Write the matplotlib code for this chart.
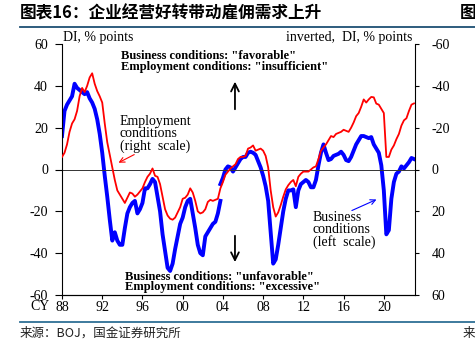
import numpy as np
import matplotlib
matplotlib.use('Agg')
import matplotlib.pyplot as plt
from matplotlib.lines import Line2D

plt.rcParams['axes.unicode_minus'] = False

# Tankan DI, quarterly from 1988Q1
quarters = np.arange(1988, 2023.01, 0.25)

# business conditions DI (left scale), old series up to 2003Q4
biz_old = [16, 28, 31, 33,
           35, 41, 39, 38,
           37, 36, 37, 34,
           32, 29, 24, 17,
           8, -3, -13, -24,
           -34, -30, -34, -36,
           -36, -28, -21, -18,
           -16, -15, -21, -19,
           -16, -9, -9, -7,
           -4.5, -6, -13, -20,
           -31, -39, -47, -48.5,
           -45, -38, -32, -26,
           -23, -18, -15, -14,
           -21, -28, -36, -40,
           -41, -32, -30, -28,
           -26, -25, -21, -15]
# new series from 2003Q4
biz_new = [-7,
           -4, 0, 1.5, 1,
           -1, 1, 3, 5,
           6, 6, 8, 8.5,
           8, 7, 4, 1,
           -3, -8, -15, -30,
           -45, -43, -36, -28,
           -20, -14, -10, -10,
           -9.5, -18, -10, -7,
           -6, -5, -6, -8.5,
           -8.5, -5, 2, 8,
           12, 8, 4.5, 5,
           6.5, 7, 7.5, 8.5,
           7, 4.5, 4, 6,
           9, 12, 14, 16,
           16, 15.5, 15, 15.5,
           12, 10, 8, 2,
           -10, -31, -29, -14,
           -6, -2, -1, 1.5,
           0.5, 2, 3.5, 5.5,
           5]

# employment conditions DI (right scale, inverted)
emp = [-6, -8, -12, -18,
       -22, -24, -28, -35,
       -39, -37, -40, -44,
       -46, -41, -37.5, -35,
       -32, -22, -13, -7,
       -1, 5, 10, 12,
       14, 16, 13.5, 11,
       11.5, 13, 12, 10.5,
       9, 6, 3.5, 2,
       -0.5, 3, 3.5, 7,
       13, 19, 22, 23.5,
       24, 23, 20.5, 18,
       14, 13.5, 12, 9,
       11, 15, 20, 21,
       20.5, 19, 15.5, 14.5,
       15, 14.5, 14, 9,
       6, 2.5, 1, -0.5,
       -1.5, -2.5, -5, -6,
       -6, -6.5, -10, -10.5,
       -11.5, -9, -9.5, -10,
       -9, -6.5, -1, 10,
       18, 22.5, 20.5, 17,
       13, 9.5, 7.5, 6,
       5, 8, 3.5, 2,
       1, 1, 1, 0,
       -1, -1.5, -5, -9,
       -10.5, -12, -14, -16,
       -15.5, -17, -17.5, -18,
       -19, -18.5, -18, -20,
       -22.5, -25.5, -27, -30,
       -33.5, -32, -33.5, -34.7,
       -34.5, -31.5, -31, -29,
       -27, -6, -6, -9.5,
       -11.5, -14.5, -17, -21,
       -23.5, -24.5, -28, -31,
       -31.6]

xticks = [1988, 1992, 1996, 2000, 2004, 2008, 2012, 2016, 2020]
xlabels = ['88', '92', '96', '00', '04', '08', '12', '16', '20']
yticks = [-60, -40, -20, 0, 20, 40, 60]

serif = 'Liberation Serif'
cjk = ['Noto Sans CJK SC', 'DejaVu Sans']

fig = plt.figure(figsize=(4.75, 3.46), dpi=100)
ax = fig.add_axes([62/475, 51/346, 353/475, 251/346])
ax2 = ax.twinx()

n_old = len(biz_old)
ax.plot(quarters[:n_old], biz_old, color='#0000ff', lw=2.8, solid_joinstyle='round')
ax.plot(quarters[n_old - 1:], biz_new, color='#0000ff', lw=2.8, solid_joinstyle='round')
ax2.plot(quarters, emp, color='#ff0000', lw=1.3)
ax.axhline(0, color='#333333', lw=0.7)

ax.set_xlim(1988, 2023.1)
ax.set_ylim(-60, 60)
ax2.set_ylim(60, -60)

ax.set_xticks(xticks)
ax.set_xticklabels(xlabels)
ax.set_yticks(yticks)
ax2.set_yticks(yticks)

for a in (ax, ax2):
    a.spines['top'].set_visible(False)
    for lab in a.get_xticklabels() + a.get_yticklabels():
        lab.set_fontfamily(serif)
        lab.set_fontsize(10)
ax2.spines['left'].set_visible(False)
ax.spines['right'].set_visible(False)
ax.tick_params(axis='y', length=5, width=0.8, pad=5)
ax.tick_params(axis='x', length=3, width=0.8, pad=1.5)
ax2.tick_params(axis='y', length=3, width=0.8, pad=9)

fig.text(30/475, 1 - 307/346, 'CY', fontfamily=serif, fontsize=10, va='center')

ax.text(0.003, 1.024, 'DI, % points', transform=ax.transAxes,
        fontfamily=serif, fontsize=10, va='center')
ax.text(0.9915, 1.024, 'inverted,  DI, % points', transform=ax.transAxes,
        fontfamily=serif, fontsize=10, va='center', ha='right')

bold = dict(transform=ax.transAxes, fontfamily=serif, fontsize=9,
            fontweight='bold', va='center')
ax.text(0.167, 0.952, 'Business conditions: "favorable"', **bold)
ax.text(0.167, 0.908, 'Employment conditions: "insufficient"', **bold)
ax.text(0.178, 0.073, 'Business conditions: "unfavorable"', **bold)
ax.text(0.178, 0.032, 'Employment conditions: "excessive"', **bold)

plain = dict(transform=ax.transAxes, fontfamily=serif, fontsize=10, va='center')
for yy, s in zip([0.690, 0.645, 0.594], ['Employment', 'conditions', '(right  scale)']):
    ax.text(0.164, yy, s, **plain)
for yy, s in zip([0.307, 0.259, 0.212], ['Business', 'conditions', '(left  scale)']):
    ax.text(0.711, yy, s, **plain)

# arrows
ax.annotate('', xy=(0.490, 0.861), xytext=(0.490, 0.729), xycoords='axes fraction',
            arrowprops=dict(arrowstyle='->', color='black', lw=1.3, mutation_scale=14))
ax.annotate('', xy=(0.490, 0.120), xytext=(0.490, 0.247), xycoords='axes fraction',
            arrowprops=dict(arrowstyle='->', color='black', lw=1.3, mutation_scale=14))
ax.annotate('', xy=(0.153, 0.522), xytext=(0.2116, 0.5645), xycoords='axes fraction',
            arrowprops=dict(arrowstyle='->', color='#ff0000', lw=0.8, mutation_scale=9))
ax.annotate('', xy=(0.898, 0.385), xytext=(0.814, 0.332), xycoords='axes fraction',
            arrowprops=dict(arrowstyle='->', color='#0000ff', lw=0.8, mutation_scale=9))

# header / footer
fig.text(20/475, 1 - 13/346, '图表16：企业经营好转带动雇佣需求上升', fontfamily=cjk,
         fontsize=12, fontweight='bold', va='center')
fig.text(460/475, 1 - 13/346, '图', fontfamily=cjk, fontsize=12,
         fontweight='bold', va='center')
fig.add_artist(Line2D([20/475, 1], [1 - 27/346] * 2, color='#1d4f73', lw=1.3))
fig.add_artist(Line2D([20/475, 1], [1 - 322/346] * 2, color='#2e6f95', lw=1.3))
fig.text(20/475, 1 - 333/346, '来源：BOJ，国金证券研究所', fontfamily=cjk,
         fontsize=9, va='center', color='#222222')
fig.text(463/475, 1 - 333/346, '来', fontfamily=cjk, fontsize=9,
         va='center', color='#222222')

fig.savefig('out.png', dpi=100)
